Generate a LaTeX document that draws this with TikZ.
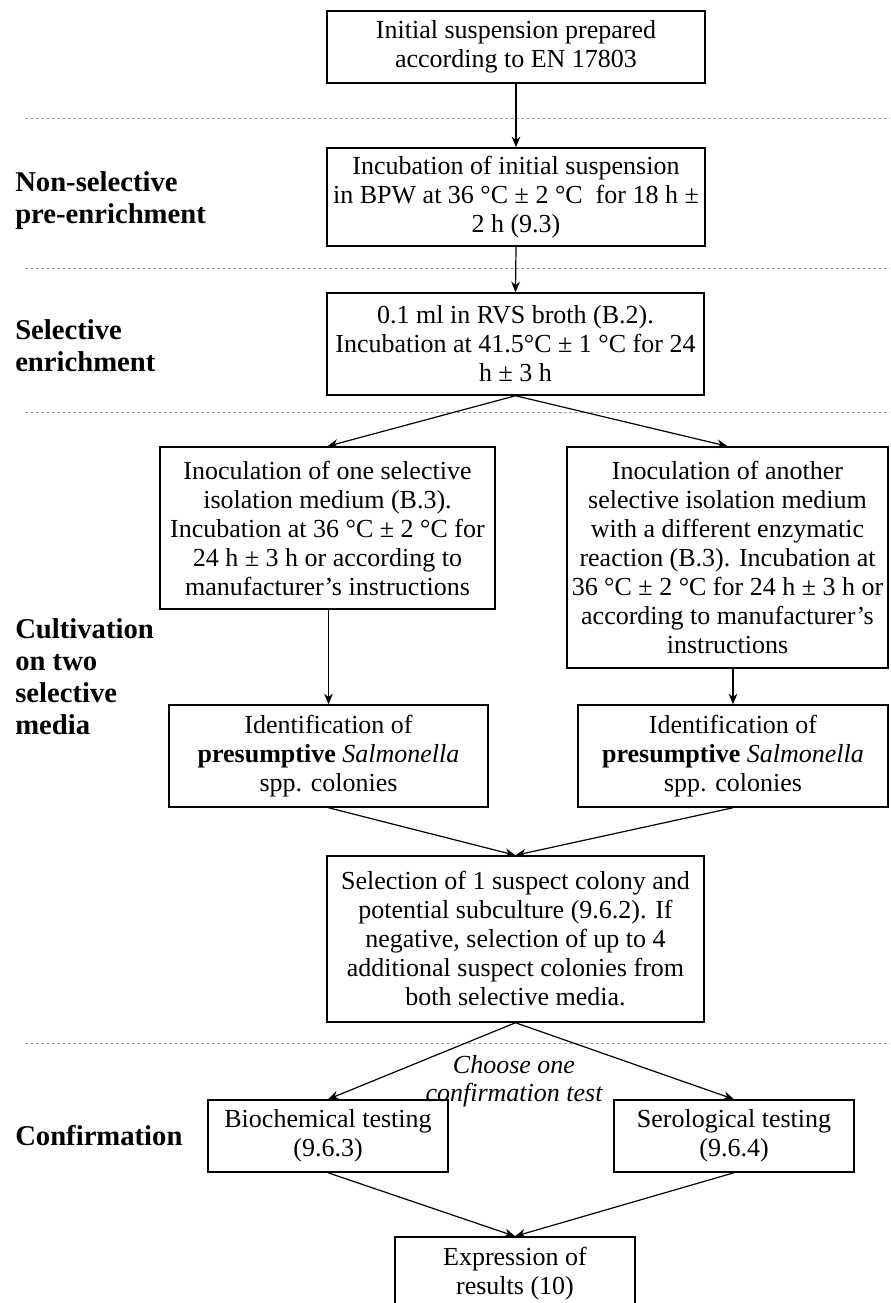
\documentclass[tikz,border=0pt]{standalone}
\usepackage{fontspec}
\setmainfont{Liberation Serif}
\usetikzlibrary{arrows.meta}
\begin{document}
\begin{tikzpicture}[x=0.75pt,y=-0.75pt,
  box/.style={draw,line width=1.1pt,align=center,inner sep=0pt,font=\fontsize{19.5}{21.75}\selectfont},
  lbl/.style={anchor=north west,align=left,inner sep=0pt,font=\fontsize{21.5}{24}\selectfont\bfseries},
  note/.style={align=center,inner sep=0pt,font=\fontsize{19.5}{21}\selectfont\itshape},
  arr/.style={-{Stealth[length=8pt,width=6.5pt]},line width=0.9pt},
  sep/.style={black!35,dash pattern=on 2.5pt off 1.5pt,line width=0.6pt}]
\useasboundingbox (0,0) rectangle (890,1303);
% separators
\draw[sep] (25,118) -- (890,118);
\draw[sep] (25,268) -- (890,268);
\draw[sep] (25,412) -- (890,412);
\draw[sep] (25,1043) -- (890,1043);
% stage labels
\node[lbl] (l1) at (15,171) {Non-selective\\pre-enrichment};
\node[lbl] (l2) at (15,319) {Selective\\enrichment};
\node[lbl] (l3) at (15,618) {Cultivation\\on two\\selective\\media};
\node[lbl] (l4) at (15,1125) {Confirmation};
% boxes
\node[box,minimum width=283.5pt,minimum height=54pt] (b1) at (516,47)
  {Initial suspension prepared\\according to EN 17803};
\node[box,minimum width=283.5pt,minimum height=73.5pt] (b2) at (516,197)
  {Incubation of initial suspension\\in BPW at 36 °C ± 2 °C\ \ for 18 h ±\\2 h (9.3)};
\node[box,minimum width=282.75pt,minimum height=76.5pt] (b3) at (515.5,344)
  {0.1 ml in RVS broth (B.2).\\Incubation at 41.5°C ± 1 °C for 24\\h ± 3 h};
\node[box,minimum width=251.25pt,minimum height=121.5pt] (b4) at (327.5,528)
  {Inoculation of one selective\\isolation medium (B.3).\\Incubation at 36 °C ± 2 °C for\\24 h ± 3 h or according to\\manufacturer’s instructions};
\node[box,minimum width=240.75pt,minimum height=165.75pt] (b5) at (727.5,557.5)
  {Inoculation of another\\selective isolation medium\\with a different enzymatic\\reaction (B.3). Incubation at\\36 °C ± 2 °C for 24 h ± 3 h or\\according to manufacturer’s\\instructions};
\node[box,minimum width=239.25pt,minimum height=76.5pt] (b6) at (328.5,756)
  {Identification of\\\textbf{presumptive} \textit{Salmonella}\\spp. colonies};
\node[box,minimum width=232.5pt,minimum height=76.5pt] (b7) at (733,756)
  {Identification of\\\textbf{presumptive} \textit{Salmonella}\\spp. colonies};
\node[box,minimum width=282.75pt,minimum height=124.5pt] (b8) at (515.5,939)
  {Selection of 1 suspect colony and\\potential subculture (9.6.2). If\\negative, selection of up to 4\\additional suspect colonies from\\both selective media.};
\node[box,minimum width=180pt,minimum height=54pt] (b9) at (328,1136)
  {Biochemical testing\\(9.6.3)};
\node[box,minimum width=180pt,minimum height=54pt] (b10) at (734,1136)
  {Serological testing\\(9.6.4)};
\node[box,minimum width=180pt,minimum height=54.75pt] (b11) at (515,1273.5)
  {Expression of\\results (10)};
\node[note] (ch) at (514,1081) {Choose one\\confirmation test};
% connectors
\draw[arr] (b1.south) -- (b2.north);
\draw[arr] (b2.south) -- (b3.north);
\draw[arr] (b3.south) -- (b4.north);
\draw[arr] (b3.south) -- (b5.north);
\draw[arr] (b4.south -| b6.north) -- (b6.north);
\draw[arr] (b5.south -| b7.north) -- (b7.north);
\draw[arr] (b6.south) -- (b8.north);
\draw[arr] (b7.south) -- (b8.north);
\draw[arr] (b8.south) -- (b9.north);
\draw[arr] (b8.south) -- (b10.north);
\draw[arr] (b9.south) -- (b11.north);
\draw[arr] (b10.south) -- (b11.north);
\end{tikzpicture}
\end{document}
